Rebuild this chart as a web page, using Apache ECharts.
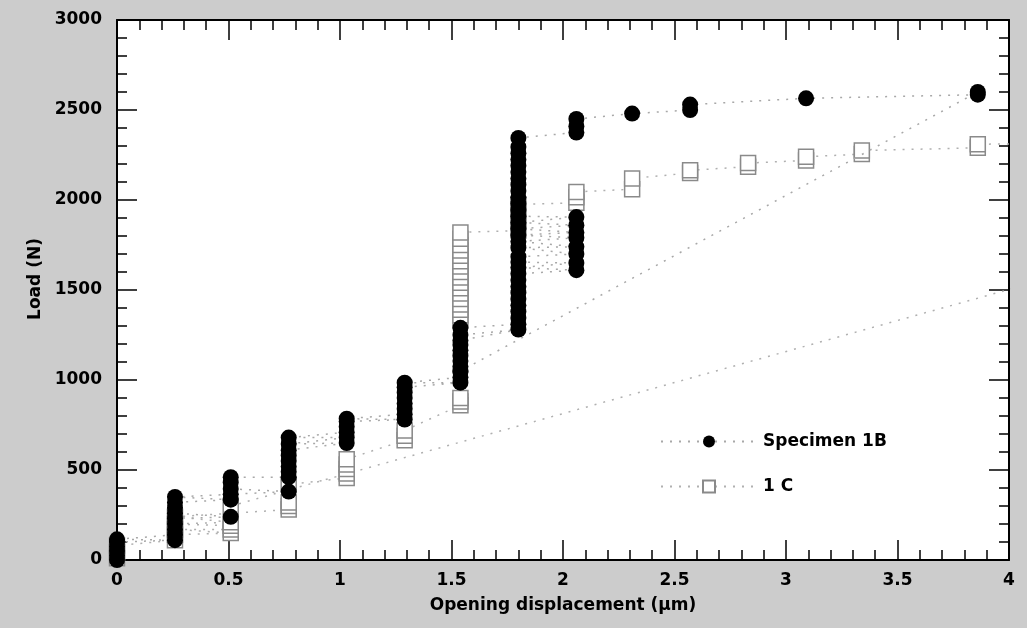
<!DOCTYPE html>
<html><head><meta charset="utf-8">
<script src="https://cdn.jsdelivr.net/npm/echarts@6/dist/echarts.min.js"></script>
<style>html,body{margin:0;padding:0;background:#cccccc}#c{width:1027px;height:628px}</style>
</head><body><div id="c"></div><script>
// Specimen 1B: displacement (µm) and load (N), in recorded order
const spec1B_disp = [0,0,0,0,0,0.26,0,0.26,0.26,0.26,0.26,0.51,0.26,0.26,0.26,0.51,0.26,0.51,0.77,0.51,0.51,0.51,0.77,0.77,0.77,0.77,0.77,0.77,1.03,0.77,1.03,0.77,1.03,1.03,1.03,1.29,1.03,1.29,1.29,1.29,1.29,1.29,1.29,1.54,1.29,1.54,1.54,1.54,1.54,1.54,1.54,1.54,1.54,
  1.8,1.54,1.54,1.8,1.8,1.8,1.8,1.8,1.8,1.8,1.8,1.8,2.06,1.8,2.06,1.8,1.8,2.06,1.8,2.06,1.8,2.06,1.8,2.06,1.8,2.06,1.8,2.06,1.8,1.8,1.8,1.8,1.8,1.8,1.8,1.8,1.8,1.8,1.8,1.8,1.8,2.06,2.06,2.06,2.31,2.57,2.57,3.09,3.86,3.86,1.54];
const spec1B_load = [0,25,50,75,100,110,115,140,170,200,230,240,260,290,320,335,350,365,380,395,430,460,460,490,520,550,580,610,650,645,680,680,710,740,770,780,785,810,840,870,900,930,960,985,985,1015,1045,1075,1105,1135,1165,1195,1220,
  1280,1250,1290,1310,1345,1380,1415,1450,1485,1520,1555,1590,1610,1625,1650,1655,1685,1700,1735,1740,1770,1790,1805,1820,1840,1860,1875,1905,1910,1945,1980,2015,2050,2085,2120,2155,2190,2225,2260,2295,2345,2375,2410,2450,2480,2500,2530,2565,2585,2600,1050];
// Specimen 1C
const spec1C_disp = [0,0,0,0.26,0.26,0.51,0.26,0.51,0.51,0.26,0.51,0.26,0.77,0.77,0.77,0.77,1.03,1.03,1.03,1.03,1.03,1.29,1.29,1.29,1.54,1.54,1.54,
  1.54,1.54,1.54,1.54,1.54,1.54,1.54,1.54,1.54,1.54,1.54,1.54,1.54,1.54,1.54,1.54,1.54,
  1.8,1.8,1.8,1.8,2.06,2.06,2.06,2.31,2.31,2.57,2.57,2.83,2.83,3.09,3.09,3.34,3.34,3.86,3.86,6.4,0.51];
const spec1C_load = [10,45,80,110,140,150,170,170,190,200,210,240,280,300,320,420,455,480,505,530,560,665,690,720,860,880,900,
  1330,1360,1390,1420,1450,1480,1510,1540,1570,1600,1630,1660,1690,1720,1750,1785,1820,
  1830,1880,1930,1975,1985,2015,2045,2060,2120,2150,2165,2185,2205,2220,2240,2255,2275,2290,2310,2330,300];
const xTicks = {min: 0, max: 4, interval: 0.5};
const yTicks = {min: 0, max: 3000, interval: 500};
const seriesNames = ['Specimen 1B', '1 C'];

const pairs = (xs, ys) => xs.map((x, i) => [x, ys[i]]);
const FONT = 'DejaVu Sans';
const txt = {color: '#000', fontSize: 17, fontFamily: FONT, fontWeight: 'bold'};
const tickStyle = {color: '#000', width: 1.5};
function axis(kind, pos, labels, extra) {
  const t = kind === 'x' ? xTicks : yTicks;
  return Object.assign({
    type: 'value', position: pos, min: t.min, max: t.max, interval: t.interval,
    axisLine: {show: true, onZero: false, lineStyle: {color: '#000', width: 2}},
    axisTick: {show: true, inside: true, length: 20, lineStyle: tickStyle},
    minorTick: {show: true, splitNumber: 5, length: 10, lineStyle: tickStyle},
    splitLine: {show: false},
    axisLabel: Object.assign({show: labels, formatter: v => String(v)}, txt),
  }, extra || {});
}
const chart = echarts.init(document.getElementById('c'));
chart.setOption({
  backgroundColor: '#cccccc',
  animation: false,
  grid: {left: 117, right: 18, top: 20, bottom: 68, show: true, backgroundColor: '#fff', borderWidth: 0},
  xAxis: [
    axis('x', 'bottom', true, {name: 'Opening displacement (\u03bcm)', nameLocation: 'middle', nameGap: 37,
      nameTextStyle: txt, axisLabel: Object.assign({show: true, margin: 12, formatter: v => String(v)}, txt)}),
    axis('x', 'top', false)
  ],
  yAxis: [
    axis('y', 'left', true, {name: 'Load (N)', nameLocation: 'middle', nameGap: 68,
      nameTextStyle: Object.assign({padding: [0, 0, 0, 22]}, txt),
      axisLabel: Object.assign({show: true, margin: 15, formatter: v => String(v)}, txt)}),
    axis('y', 'right', false)
  ],
  legend: {
    data: seriesNames, orient: 'vertical', left: 655, top: 428,
    itemWidth: 96, itemHeight: 15, itemGap: 28,
    textStyle: Object.assign({padding: [0, 0, 0, 1]}, txt)
  },
  series: [
    {
      name: seriesNames[1], type: 'line', data: pairs(spec1C_disp, spec1C_load),
      symbol: 'rect', symbolSize: 15, showAllSymbol: true,
      itemStyle: {color: '#fff', borderColor: '#8a8a8a', borderWidth: 1.5},
      lineStyle: {color: '#b0b0b0', width: 1.5, type: [2, 7]},
      emphasis: {disabled: true}, z: 2
    },
    {
      name: seriesNames[0], type: 'line', data: pairs(spec1B_disp, spec1B_load),
      symbol: 'circle', symbolSize: 16, showAllSymbol: true,
      itemStyle: {color: '#000'},
      lineStyle: {color: '#a8a8a8', width: 1.5, type: [2, 7]},
      emphasis: {disabled: true}, z: 3
    }
  ]
});
</script></body></html>
